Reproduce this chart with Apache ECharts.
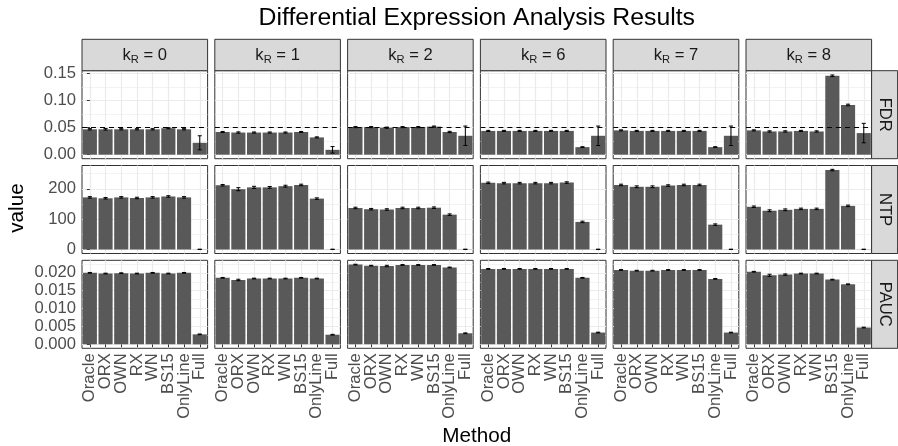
<!DOCTYPE html>
<html><head><meta charset="utf-8">
<script src="https://cdn.jsdelivr.net/npm/echarts@6/dist/echarts.min.js"></script>
<style>html,body{margin:0;padding:0;background:#fff}#c{width:898px;height:446px}</style>
</head><body><div id="c"></div><script>
// ---------------- data ----------------
const methods = ['Oracle','ORX','OWN','RX','WN','BS15','OnlyLine','Full'];
const kLabels = ['0','1','2','6','7','8'];
const metricNames = ['FDR','NTP','PAUC'];
const fdrTarget = 0.05;

const fdrMean = [
 [0.047,0.047,0.047,0.047,0.047,0.049,0.047,0.022],
 [0.042,0.041,0.041,0.041,0.041,0.042,0.032,0.009],
 [0.051,0.051,0.050,0.051,0.051,0.052,0.042,0.035],
 [0.044,0.044,0.044,0.044,0.044,0.044,0.014,0.035],
 [0.045,0.044,0.044,0.044,0.044,0.044,0.014,0.035],
 [0.045,0.043,0.043,0.044,0.043,0.146,0.092,0.040]
];
const fdrErr = [
 [0.0012,0.0015,0.0012,0.0012,0.0012,0.0010,0.0012,0.013],
 [0.0010,0.0012,0.0010,0.0010,0.0010,0.0010,0.0010,0.006],
 [0.0010,0.0010,0.0010,0.0010,0.0010,0.0010,0.0012,0.018],
 [0.0010,0.0010,0.0010,0.0010,0.0010,0.0010,0.0008,0.018],
 [0.0010,0.0010,0.0010,0.0010,0.0010,0.0010,0.0008,0.018],
 [0.0010,0.0012,0.0012,0.0010,0.0012,0.0015,0.0015,0.018]
];
const ntpMean = [
 [172,169,172,170,172,175,172,0.5],
 [212,199,205,205,209,213,168,0.5],
 [137,133,132,137,137,138,115,0.5],
 [220,219,219,219,219,221,91,0.5],
 [213,207,207,211,213,213,82,0.5],
 [141,128,131,134,134,262,144,0.5]
];
const ntpErr = [
 [2.5,2.5,2.5,2.5,2.5,2.5,2.5,0.6],
 [2.5,5,3.5,3,3,2.5,2.5,0.6],
 [2.5,2.5,2.5,2.5,2.5,2.5,2.5,0.6],
 [2.5,2.5,2.5,2.5,2.5,2.5,2.5,0.6],
 [2.5,3,3,2.5,2.5,2.5,2.5,0.6],
 [2.5,3,3,2.5,2.5,2.5,2.5,0.6]
];
const paucMean = [
 [0.0200,0.0198,0.0199,0.0198,0.0200,0.0198,0.0200,0.0028],
 [0.0186,0.0180,0.0184,0.0184,0.0184,0.0186,0.0184,0.0027],
 [0.0223,0.0220,0.0219,0.0222,0.0222,0.0222,0.0215,0.0031],
 [0.0211,0.0211,0.0211,0.0211,0.0211,0.0211,0.0186,0.0033],
 [0.0208,0.0206,0.0206,0.0208,0.0208,0.0208,0.0183,0.0033],
 [0.0203,0.0193,0.0195,0.0198,0.0198,0.0181,0.0168,0.0047]
];
const paucErr = [
 [0.0001,0.0001,0.0001,0.0001,0.0001,0.0001,0.0001,0.0001],
 [0.0001,0.0002,0.0001,0.0001,0.0001,0.0001,0.0001,0.0001],
 [0.0001,0.0001,0.0002,0.0001,0.0001,0.0001,0.0001,0.0001],
 [0.0001,0.0001,0.0001,0.0001,0.0001,0.0001,0.0001,0.0001],
 [0.0001,0.0001,0.0001,0.0001,0.0001,0.0001,0.0001,0.0001],
 [0.0001,0.0003,0.0002,0.0001,0.0001,0.0001,0.0001,0.0001]
];
const yMin = [-0.0074, -13.2, -0.0011];
const yMax = [0.1554, 277.2, 0.0235];
const majorTicks = [[0,0.05,0.10,0.15],[0,100,200],[0,0.005,0.010,0.015,0.020]];
const minorTicks = [[0.025,0.075,0.125],[50,150,250],[0.0025,0.0075,0.0125,0.0175,0.0225]];
const tickDecimals = [2,0,3];

// ---------------- layout ----------------
const FONT = '"Liberation Sans", Arial, Helvetica, sans-serif';
const PL0 = 82, PW = 125.6, PSTEP = 132.8;
const PT0 = 70.7, PH = 88, PVSTEP = 94.8;
const STRIP_T = 39.3;
const RSTRIP_L = PL0 + 5*PSTEP + PW, RSTRIP_W = 26;
const BAR = '#595959', GRID_MAJ = '#ebebeb', BORDER = '#333333';

const means = [fdrMean, ntpMean, paucMean];
const errs = [fdrErr, ntpErr, paucErr];

const grids = [], xAxes = [], yAxes = [], series = [], graphics = [];
const catIdx = methods.map((m,i)=>i);

function renderErr(params, api) {
  const i = api.value(0), lo = api.value(1), hi = api.value(2);
  const pLo = api.coord([i, lo]), pHi = api.coord([i, hi]);
  const half = api.size([1, 0])[0] * 0.13;
  const st = {stroke:'#000', lineWidth:1};
  const x = pLo[0];
  return {type:'group', children:[
    {type:'line', shape:{x1:x, y1:pHi[1], x2:x, y2:pLo[1]}, style:st},
    {type:'line', shape:{x1:x-half, y1:pHi[1], x2:x+half, y2:pHi[1]}, style:st},
    {type:'line', shape:{x1:x-half, y1:pLo[1], x2:x+half, y2:pLo[1]}, style:st}
  ]};
}

for (let r = 0; r < 3; r++) {
  for (let c = 0; c < 6; c++) {
    const g = r*6 + c;
    grids.push({left: PL0 + c*PSTEP, top: PT0 + r*PVSTEP, width: PW, height: PH,
      show: true, borderColor: BORDER, borderWidth: 1, backgroundColor: '#fff',
      containLabel: false, outerBoundsMode: 'none'});
    // category axis for bars
    xAxes.push({type:'category', gridIndex:g, data: methods, position:'bottom',
      axisLine:{show:false},
      axisTick:{show: r===2, alignWithLabel:true, length:3, lineStyle:{color:BORDER, width:1}},
      axisLabel:{show: r===2, rotate:90, interval:0, fontSize:16.6, color:'#4d4d4d', fontFamily:FONT, margin:5, hideOverlap:false},
      splitLine:{show:false}});
    // hidden value axis for vertical gridlines at category centers
    xAxes.push({type:'value', gridIndex:g, position:'top', min:-0.5, max:7.5,
      axisLine:{show:false}, axisLabel:{show:false},
      axisTick:{show:false, customValues: catIdx},
      splitLine:{show:true, lineStyle:{color:GRID_MAJ, width:1.2}}});
    const dec = tickDecimals[r];
    yAxes.push({type:'value', gridIndex:g, position:'left', min:yMin[r], max:yMax[r],
      axisLine:{show:false},
      axisTick:{show: c===0, length:3, customValues: majorTicks[r], lineStyle:{color:BORDER, width:1}},
      axisLabel:{show: c===0, customValues: majorTicks[r], formatter: v => Number(v).toFixed(dec),
        fontSize:16.6, color:'#4d4d4d', fontFamily:FONT, margin:6},
      splitLine:{show:true, lineStyle:{color:GRID_MAJ, width:1.2}}});
    yAxes.push({type:'value', gridIndex:g, position:'right', min:yMin[r], max:yMax[r],
      axisLine:{show:false}, axisLabel:{show:false},
      axisTick:{show:false, customValues: minorTicks[r]},
      splitLine:{show:true, lineStyle:{color:GRID_MAJ, width:0.6}}});
    const bar = {type:'bar', xAxisIndex:2*g, yAxisIndex:2*g, data: means[r][c],
      barCategoryGap:'10%', itemStyle:{color:BAR}, silent:true, z:2};
    if (r === 0) {
      bar.markLine = {silent:true, symbol:['none','none'], label:{show:false},
        lineStyle:{color:'#000', type:[5,4], width:1}, data:[{yAxis: fdrTarget}], z:5};
    }
    series.push(bar);
    series.push({type:'custom', xAxisIndex:2*g, yAxisIndex:2*g, renderItem: renderErr, z:4,
      data: means[r][c].map((v,i)=>[i, v - errs[r][c][i], v + errs[r][c][i]]),
      encode:{x:0, y:[1,2]}, silent:true});
  }
}

// strips (top)
const ctx = document.createElement('canvas').getContext('2d');
function tw(t, fs){ ctx.font = fs + 'px ' + FONT; return ctx.measureText(t).width; }
const MAIN = 16.6, SUB = 11.2;
for (let c = 0; c < 6; c++) {
  const x0 = PL0 + c*PSTEP;
  graphics.push({type:'rect', shape:{x:x0, y:STRIP_T, width:PW, height:PT0-STRIP_T},
    style:{fill:'#d9d9d9', stroke:BORDER, lineWidth:1}, silent:true, z:10});
  const rest = ' = ' + kLabels[c];
  const W = tw('k',MAIN) + tw('R',SUB) + tw(rest,MAIN);
  let sx = x0 + PW/2 - W/2;
  const cy = (STRIP_T + PT0)/2 + 0.6;
  graphics.push({type:'text', x:sx, y:cy, style:{text:'k', font: MAIN+'px '+FONT, fill:'#1a1a1a', align:'left', verticalAlign:'middle'}, z:11});
  sx += tw('k',MAIN);
  graphics.push({type:'text', x:sx, y:cy+4.2, style:{text:'R', font: SUB+'px '+FONT, fill:'#1a1a1a', align:'left', verticalAlign:'middle'}, z:11});
  sx += tw('R',SUB);
  graphics.push({type:'text', x:sx, y:cy, style:{text:rest, font: MAIN+'px '+FONT, fill:'#1a1a1a', align:'left', verticalAlign:'middle'}, z:11});
}
// strips (right)
for (let r = 0; r < 3; r++) {
  const y0 = PT0 + r*PVSTEP;
  graphics.push({type:'rect', shape:{x:RSTRIP_L, y:y0, width:RSTRIP_W, height:PH},
    style:{fill:'#d9d9d9', stroke:BORDER, lineWidth:1}, silent:true, z:10});
  graphics.push({type:'text', x:RSTRIP_L + RSTRIP_W/2, y:y0 + PH/2, rotation:-Math.PI/2,
    style:{text: metricNames[r], font: MAIN+'px '+FONT, fill:'#1a1a1a', align:'center', verticalAlign:'middle'}, z:11});
}
// titles
graphics.push({type:'text', x:(PL0 + RSTRIP_L)/2, y:18, style:{text:'Differential Expression Analysis Results', font:'24.8px '+FONT, fill:'#000', align:'center', verticalAlign:'middle'}, z:11});
graphics.push({type:'text', x:(PL0 + RSTRIP_L)/2, y:436.5, style:{text:'Method', font:'20.7px '+FONT, fill:'#000', align:'center', verticalAlign:'middle'}, z:11});
graphics.push({type:'text', x:17, y:208, rotation:Math.PI/2, style:{text:'value', font:'20.7px '+FONT, fill:'#000', align:'center', verticalAlign:'middle'}, z:11});

const chart = echarts.init(document.getElementById('c'), null, {renderer:'canvas'});
chart.setOption({
  animation:false,
  backgroundColor:'#fff',
  textStyle:{fontFamily:FONT},
  grid: grids, xAxis: xAxes, yAxis: yAxes, series: series,
  graphic: {elements: graphics}
});
</script></body></html>
